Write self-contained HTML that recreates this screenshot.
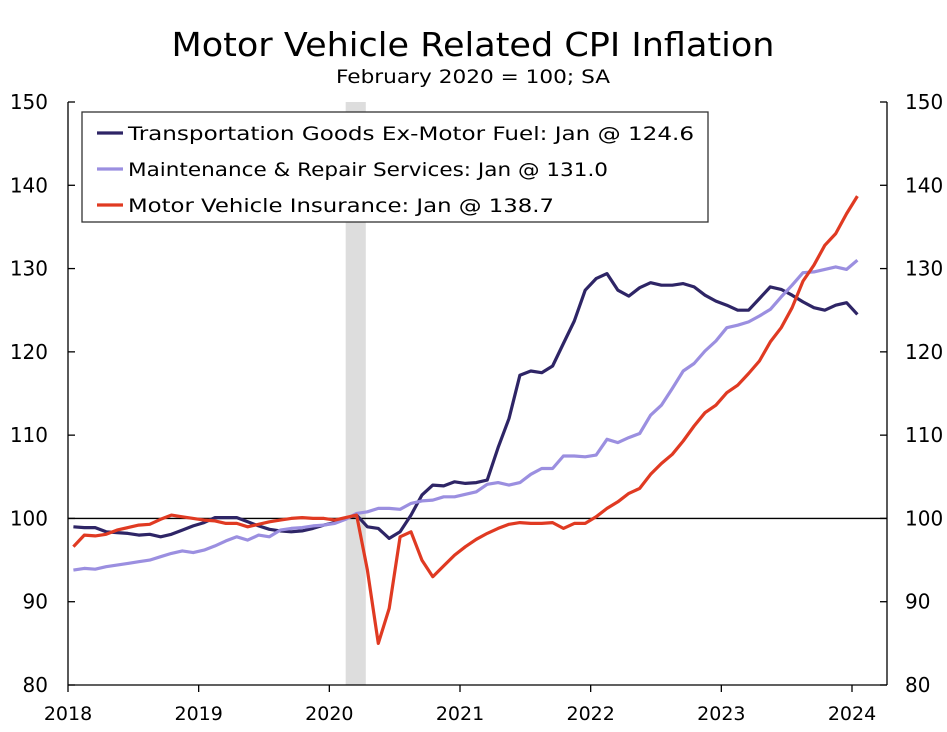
<!DOCTYPE html>
<html><head><meta charset="utf-8"><style>
body{margin:0;background:#fff;}
svg text{font-family:"DejaVu Sans","Liberation Sans",sans-serif;fill:#000;}
</style></head><body>
<svg id="chart" width="947" height="727" viewBox="0 0 947 727" xmlns="http://www.w3.org/2000/svg">
<rect x="0" y="0" width="947" height="727" fill="#fff"/>
<text x="473" y="56" font-size="33" text-anchor="middle" textLength="603" lengthAdjust="spacingAndGlyphs">Motor Vehicle Related CPI Inflation</text>
<text x="473" y="83" font-size="19" text-anchor="middle" textLength="274" lengthAdjust="spacingAndGlyphs">February 2020 = 100; SA</text>
<g id="plot"></g>
</svg>
<script>
const yTicks=[80,90,100,110,120,130,140,150];
const xTickLabels=["2018","2019","2020","2021","2022","2023","2024"];
const transportGoods=[99.0,98.9,98.9,98.4,98.3,98.2,98.0,98.1,97.8,98.1,98.6,99.1,
99.5,100.1,100.1,100.1,99.6,99.1,98.7,98.5,98.4,98.5,98.8,99.2,
99.5,100.0,100.4,99.0,98.8,97.6,98.4,100.4,102.8,104.0,103.9,104.4,
104.2,104.3,104.6,108.5,112.0,117.2,117.7,117.5,118.3,121.0,123.7,127.4,
128.8,129.4,127.4,126.7,127.7,128.3,128.0,128.0,128.2,127.8,126.8,126.1,
125.6,125.0,125.0,126.4,127.8,127.5,126.8,126.0,125.3,125.0,125.6,125.9,124.5];
const maintenance=[93.8,94.0,93.9,94.2,94.4,94.6,94.8,95.0,95.4,95.8,96.1,95.9,
96.2,96.7,97.3,97.8,97.4,98.0,97.8,98.6,98.8,98.9,99.1,99.2,
99.4,99.9,100.6,100.8,101.2,101.2,101.1,101.8,102.1,102.2,102.6,102.6,
102.9,103.2,104.1,104.3,104.0,104.3,105.3,106.0,106.0,107.5,107.5,107.4,
107.6,109.5,109.1,109.7,110.2,112.4,113.6,115.6,117.7,118.6,120.1,121.3,
122.9,123.2,123.6,124.3,125.1,126.6,128.0,129.5,129.6,129.9,130.2,129.9,131.0];
const insurance=[96.6,98.0,97.9,98.1,98.6,98.9,99.2,99.3,99.9,100.4,100.2,100.0,
99.8,99.7,99.4,99.4,99.0,99.3,99.6,99.8,100.0,100.1,100.0,100.0,
99.8,100.1,100.4,93.8,85.0,89.2,97.8,98.4,95.0,93.0,94.3,95.6,
96.6,97.5,98.2,98.8,99.3,99.5,99.4,99.4,99.5,98.8,99.4,99.4,
100.2,101.2,102.0,103.0,103.6,105.3,106.6,107.7,109.3,111.1,112.7,113.6,
115.1,116.0,117.4,118.9,121.2,122.9,125.3,128.5,130.4,132.8,134.2,136.6,138.7];
const seriesNames=["Transportation Goods Ex-Motor Fuel: Jan @ 124.6","Maintenance & Repair Services: Jan @ 131.0","Motor Vehicle Insurance: Jan @ 138.7"];
const legendWidths=[566,480,426];

const NS="http://www.w3.org/2000/svg";
const L=68,R=887,T=102,B=685,yMin=80,yMax=150;
const yearW=(852-68)/6;
const y=v=>B-(v-yMin)/(yMax-yMin)*(B-T);
const xm=i=>L+(i+0.5)*yearW/12;
const xy=k=>L+k*yearW;
const g=document.getElementById('plot');
function mk(tag,attrs){const e=document.createElementNS(NS,tag);for(const k in attrs)e.setAttribute(k,attrs[k]);g.appendChild(e);return e;}

let e=mk('rect',{x:xy(2)+yearW/12*1.5,y:T,width:yearW/12*1.85,height:B-T,fill:'#dddddd'});



e=mk('line',{x1:L,x2:R,y1:y(100),y2:y(100),stroke:'#000','stroke-width':1.3});



e=mk('line',{x1:L,x2:L,y1:T,y2:B,stroke:'#000','stroke-width':1.3});


e=mk('line',{x1:R,x2:R,y1:T,y2:B,stroke:'#000','stroke-width':1.3});


e=mk('line',{x1:L,x2:R,y1:B,y2:B,stroke:'#000','stroke-width':1.3});



yTicks.forEach(v=>{
  let t=mk('line',{x1:L,x2:L+7,y1:y(v),y2:y(v),stroke:'#000','stroke-width':1.3});
  
  
  t=mk('line',{x1:R-7,x2:R,y1:y(v),y2:y(v),stroke:'#000','stroke-width':1.3});
  
  
  let tx=mk('text',{x:L-20,y:y(v)+7,'font-size':20,'text-anchor':'end'});
  tx.textContent=v;
  
  
  tx=mk('text',{x:R+18,y:y(v)+7,'font-size':20,'text-anchor':'start'});
  tx.textContent=v;
  
  
});
xTickLabels.forEach((lab,k)=>{
  let t=mk('line',{x1:xy(k),x2:xy(k),y1:B,y2:B+7,stroke:'#000','stroke-width':1.3});
  
  
  let tx=mk('text',{x:xy(k),y:B+35,'font-size':19,'text-anchor':'middle'});
  tx.textContent=lab;
  
  
});

const colors=['#2e2566','#9b8fe0','#e03a22'];
const names=['line-transportation-goods','line-maintenance-repair','line-motor-vehicle-insurance'];
[transportGoods,maintenance,insurance].forEach((arr,s)=>{
  const p=mk('polyline',{points:arr.map((v,i)=>xm(i).toFixed(1)+','+y(v).toFixed(1)).join(' '),fill:'none',stroke:colors[s],'stroke-width':3.2,'stroke-linejoin':'round'});
  
  
});

e=mk('rect',{x:82,y:112,width:626,height:110,fill:'#fff',stroke:'#333','stroke-width':1.3});


seriesNames.forEach((n,s)=>{
  const ly=133+s*36;
  let l=mk('line',{x1:97,x2:123,y1:ly,y2:ly,stroke:colors[s],'stroke-width':3.2});
  
  
  let tx=mk('text',{x:128,y:ly+7,'font-size':19,textLength:legendWidths[s],lengthAdjust:'spacingAndGlyphs'});
  tx.textContent=n;
  
  
});
</script>
</body></html>
